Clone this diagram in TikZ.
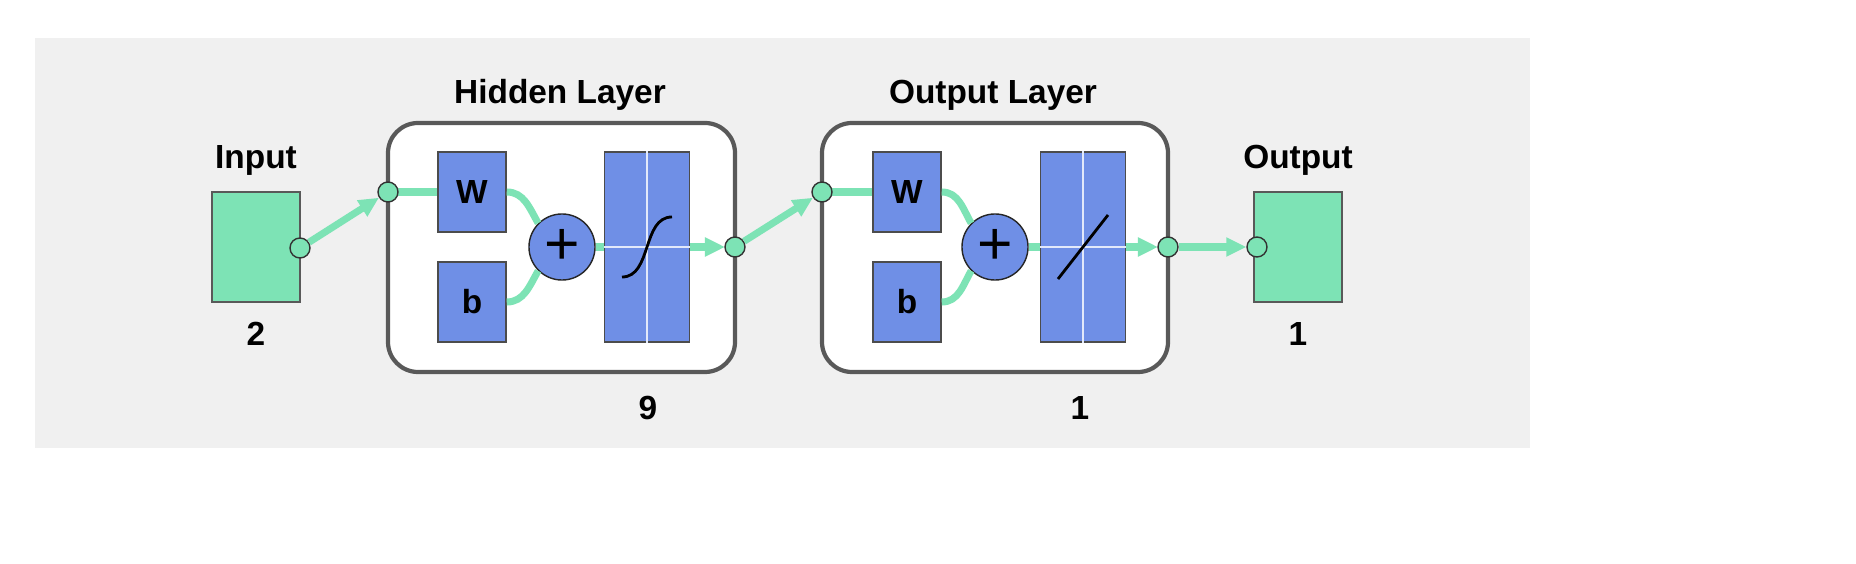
\documentclass[tikz,border=0pt]{standalone}
\usepackage{fontspec}
\setmainfont{Liberation Sans}
\usetikzlibrary{arrows.meta}
\definecolor{netgreen}{HTML}{7DE3B5}
\definecolor{netblue}{HTML}{6F8FE6}
\definecolor{netgray}{HTML}{F0F0F0}

\begin{document}
\begin{tikzpicture}[x=0.01cm,y=-0.01cm,
  font=\fontsize{9.5}{11}\selectfont\bfseries,
  term/.style={draw=gray!70!black,fill=netgreen,minimum width=0.88cm,minimum height=1.1cm,inner sep=0},
  layer/.style={draw=gray!70!black,very thick,rounded corners=0.3cm,fill=white},
  weight/.style={draw=gray!60!black,fill=netblue,minimum width=0.68cm,minimum height=0.8cm,inner sep=0},
  transfer/.style={draw=gray!60!black,fill=netblue,minimum width=0.85cm,minimum height=1.9cm,inner sep=0},
  sum/.style={circle,draw=gray!30!black,fill=netblue,minimum size=0.66cm,inner sep=0,font=\LARGE},
  port/.style={circle,draw=gray!40!black,fill=netgreen,minimum size=0.2cm,inner sep=0},
  wire/.style={netgreen,line width=2pt},
  to/.style={wire,-{Triangle[length=0.2cm,width=0.18cm,fill=netgreen]}}]

  % Background and bounding box
  \useasboundingbox (0,0) rectangle (1856,564);
  \fill[netgray] (35,38) rectangle (1530,448);

  % Input and output terminals
  \node[term] (input) at (256,247) {};
  \node[above=1pt] at (input.north) {Input};
  \node[below=2pt] at (input.south) {2};
  \node[term] (output) at (1298,247) {};
  \node[above=1pt] at (output.north) {Output};
  \node[below=2pt] at (output.south) {1};

  % Layers
  \draw[layer] (388,123) rectangle (735,372);
  \node at (560,95) {Hidden Layer};
  \node at (648,408) {9};
  \draw[layer] (822,123) rectangle (1168,372);
  \node at (993,95) {Output Layer};
  \node at (1080,408) {1};

  % Hidden layer blocks
  \node[weight] (w1) at (472,192) {W};
  \node[weight] (b1) at (472,302) {b};
  \node[sum] (s1) at (562,247) {+};
  \node[transfer] (f1) at (647,247) {};
  \draw[white!80!netblue,thin] (f1.north) -- (f1.south) (f1.west) -- (f1.east);
  \draw[black,thick] ([xshift=-0.25cm,yshift=-0.3cm]f1.center) .. controls ([xshift=0.05cm,yshift=-0.3cm]f1.center) and ([xshift=-0.05cm,yshift=0.3cm]f1.center) .. ([xshift=0.25cm,yshift=0.3cm]f1.center);

  % Output layer blocks
  \node[weight] (w2) at (907,192) {W};
  \node[weight] (b2) at (907,302) {b};
  \node[sum] (s2) at (995,247) {+};
  \node[transfer] (f2) at (1083,247) {};
  \draw[white!80!netblue,thin] (f2.north) -- (f2.south) (f2.west) -- (f2.east);
  \draw[black,thick] ([xshift=-0.25cm,yshift=-0.32cm]f2.center) -- ([xshift=0.25cm,yshift=0.32cm]f2.center);

  % Connections
  \draw[wire] (388,192) -- (w1.west);
  \draw[wire] (w1.east) to[out=0,in=120] (s1.north west);
  \draw[wire] (b1.east) to[out=0,in=-120] (s1.south west);
  \draw[wire] (s1.east) -- (f1.west);
  \draw[to] (f1.east) -- (725,247);
  \draw[wire] (822,192) -- (w2.west);
  \draw[wire] (w2.east) to[out=0,in=120] (s2.north west);
  \draw[wire] (b2.east) to[out=0,in=-120] (s2.south west);
  \draw[wire] (s2.east) -- (f2.west);
  \draw[to] (f2.east) -- (1158,247);

  \node[port] (p0) at (300,248) {};
  \node[port] (p1) at (388,192) {};
  \node[port] (p2) at (735,247) {};
  \node[port] (p3) at (822,192) {};
  \node[port] (p4) at (1168,247) {};
  \node[port] (p5) at (1257,247) {};
  \draw[to] (p0) -- (p1);
  \draw[to] (p2) -- (p3);
  \draw[to] (p4) -- (p5);
\end{tikzpicture}
\end{document}
